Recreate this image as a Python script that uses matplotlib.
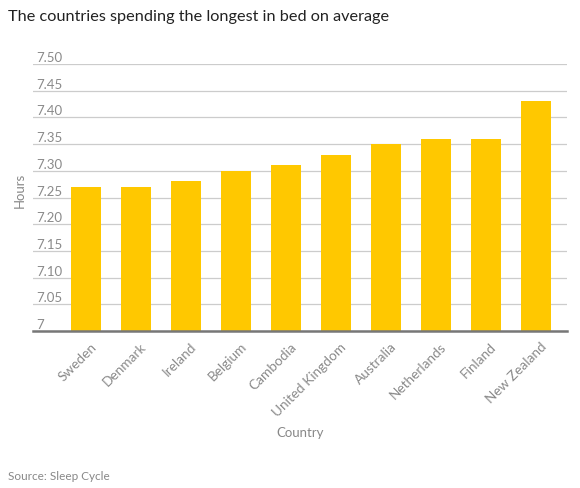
import matplotlib.pyplot as plt

countries = ["Sweden", "Denmark", "Ireland", "Belgium", "Cambodia",
             "United Kingdom", "Australia", "Netherlands", "Finland", "New Zealand"]
hours = [7.27, 7.27, 7.28, 7.30, 7.31, 7.33, 7.35, 7.36, 7.36, 7.43]
y_ticks = [7.0, 7.05, 7.10, 7.15, 7.20, 7.25, 7.30, 7.35, 7.40, 7.45, 7.50]
y_tick_labels = ["7", "7.05", "7.10", "7.15", "7.20", "7.25", "7.30", "7.35", "7.40", "7.45", "7.50"]

plt.rcParams['font.family'] = ['Lato', 'DejaVu Sans']

fig = plt.figure(figsize=(5.8, 4.88), dpi=100)
ax = fig.add_axes([33 / 580, 1 - 331 / 488, 534 / 580, 267 / 488])

x = list(range(len(countries)))
ax.bar(x, hours, width=0.6, color="#FFC800", zorder=3)

ax.set_xlim(-1.06, 9.62)
ax.set_ylim(7.0, 7.5)
ax.set_yticks(y_ticks)
ax.set_yticklabels(y_tick_labels, ha="left", va="bottom", color="#8a8a8a", fontsize=9.5)
ax.tick_params(axis="y", length=0, pad=-2)
ax.grid(axis="y", color="#cccccc", linewidth=0.9, zorder=0)

ax.set_xticks([i + 0.08 for i in x])
ax.set_xticklabels(countries, rotation=45, ha="right", rotation_mode="anchor",
                   color="#8a8a8a", fontsize=9.8)
ax.tick_params(axis="x", length=0, pad=7)

for side in ["top", "right", "left"]:
    ax.spines[side].set_visible(False)
ax.spines["bottom"].set_color("#777777")
ax.spines["bottom"].set_linewidth(1.8)
ax.spines["bottom"].set_zorder(4)

fig.text(20 / 580, 1 - 190 / 488, "Hours", rotation=90, ha="center", va="center",
         color="#888888", fontsize=9.5)
fig.text(300 / 580, 1 - 433 / 488, "Country", ha="center", va="center",
         color="#888888", fontsize=9.5)
fig.text(8 / 580, 1 - 17 / 488, "The countries spending the longest in bed on average",
         ha="left", va="center", color="#222222", fontsize=11.7)
fig.text(8 / 580, 1 - 476 / 488, "Source: Sleep Cycle", ha="left", va="center",
         color="#888888", fontsize=8.5)

fig.savefig("out.png", dpi=100)
